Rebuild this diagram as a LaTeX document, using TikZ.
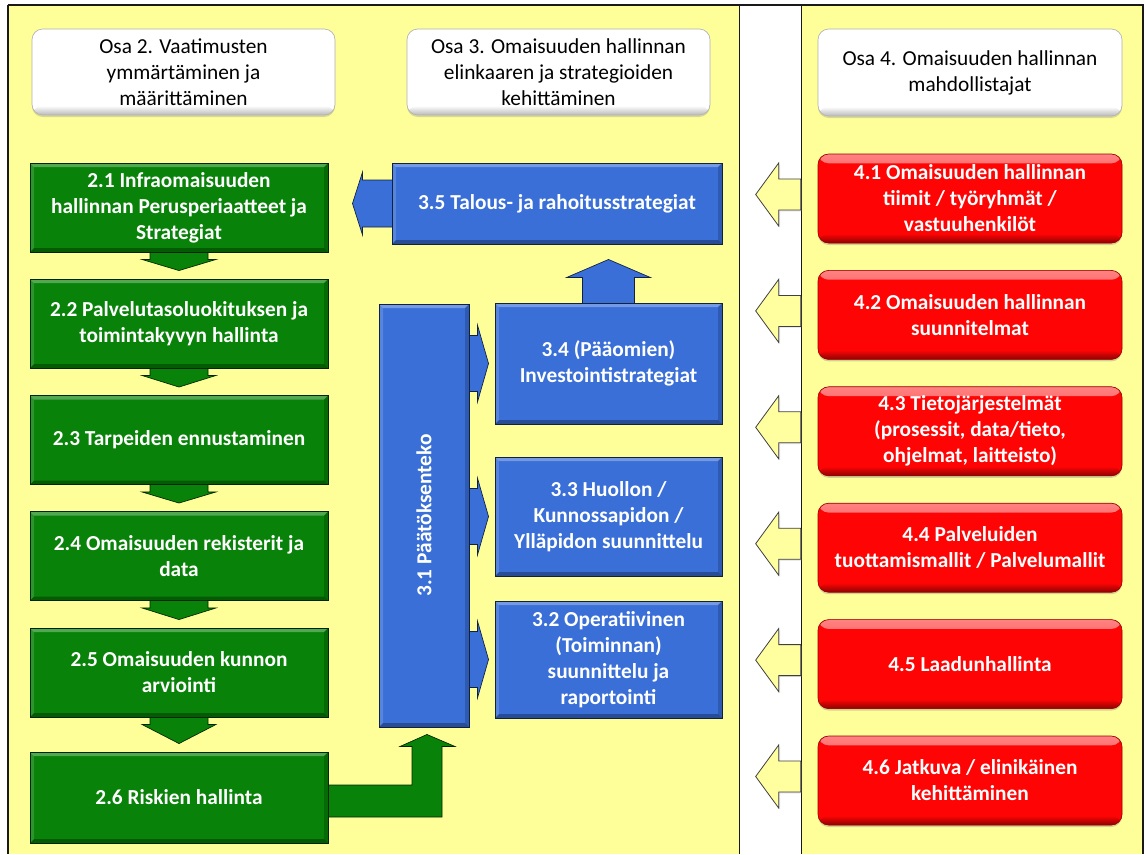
\documentclass[tikz,border=0pt]{standalone}
\usepackage{fontspec}
\setmainfont{Carlito}
\usetikzlibrary{calc,shadows}
\pgfdeclarelayer{back}
\pgfdeclarelayer{bg}
\pgfsetlayers{back,bg,main}

\definecolor{panelY}{RGB}{255,255,153}
\definecolor{boxG}{RGB}{8,130,8}
\definecolor{boxB}{RGB}{58,111,216}
\definecolor{boxR}{RGB}{255,4,4}
\definecolor{frameC}{RGB}{25,25,25}
\definecolor{arrowY}{RGB}{255,255,160}

% flat 3D bevel: light top/left edges, dark bottom/right edges
\newcommand\bevelpic{%
  \fill[white,opacity=.30] (path picture bounding box.north west) -- (path picture bounding box.north east)
    -- ([shift={(-3pt,-3pt)}]path picture bounding box.north east) -- ([shift={(3pt,-3pt)}]path picture bounding box.north west) -- cycle;
  \fill[white,opacity=.15] (path picture bounding box.north west) -- ([shift={(3pt,-3pt)}]path picture bounding box.north west)
    -- ([shift={(3pt,3pt)}]path picture bounding box.south west) -- (path picture bounding box.south west) -- cycle;
  \fill[black,opacity=.30] (path picture bounding box.south west) -- (path picture bounding box.south east)
    -- ([shift={(-3pt,3pt)}]path picture bounding box.south east) -- ([shift={(3pt,3pt)}]path picture bounding box.south west) -- cycle;
  \fill[black,opacity=.18] (path picture bounding box.north east) -- ([shift={(-3pt,-3pt)}]path picture bounding box.north east)
    -- ([shift={(-3pt,3pt)}]path picture bounding box.south east) -- (path picture bounding box.south east) -- cycle;}

% glossy rounded box: bright band on top, darker band at the bottom
\newcommand\glosspic[3]{%
  \shade[top color=#2, bottom color=#1] (path picture bounding box.north west) rectangle ([yshift=-7pt]path picture bounding box.north east);
  \shade[top color=#1, bottom color=#3] ([yshift=7pt]path picture bounding box.south west) rectangle (path picture bounding box.south east);}

\tikzset{
  boxtext/.style={align=center, text=white, inner sep=0pt, font=\bfseries\fontsize{16}{19.5}\selectfont},
  gbox/.style={boxtext, rectangle, fill=boxG, draw=boxG!30!black, line width=0.7pt,
    minimum width=223.5pt, minimum height=66.75pt, path picture={\bevelpic}},
  bbox/.style={boxtext, rectangle, fill=boxB, draw=boxB!30!black, line width=0.7pt,
    minimum width=170.25pt, path picture={\bevelpic}},
  rbox/.style={boxtext, rectangle, rounded corners=8pt, fill=boxR, draw=boxR!60!black, line width=0.5pt,
    minimum width=228pt, minimum height=66.75pt, path picture={\glosspic{boxR}{boxR!50!white}{boxR!55!black}},
    drop shadow={shadow xshift=0pt, shadow yshift=-1.5pt, opacity=.35}},
  hbox/.style={rectangle, rounded corners=8pt, fill=white, draw=gray!60, line width=0.5pt,
    minimum width=227.25pt, minimum height=64.5pt, align=center, inner sep=0pt,
    font=\fontsize{16}{19.5}\selectfont, path picture={\glosspic{white}{white}{gray!55}},
    drop shadow={shadow xshift=0pt, shadow yshift=-1.5pt, opacity=.30}},
  garrow/.style={fill=boxG, draw=boxG!30!black, line width=0.5pt, line join=miter},
  barrow/.style={fill=boxB, draw=boxB!30!black, line width=0.5pt, line join=miter},
  yarrow/.style={fill=arrowY, draw=black!75, line width=0.6pt, line join=miter,
    drop shadow={shadow xshift=1pt, shadow yshift=-1pt, opacity=.25}},
}

% green block arrow pointing down from one box to the next
\newcommand\gdown[2]{%
  \begin{pgfonlayer}{bg}
  \path[garrow] ($(#1.south)+(-29,-4)$) -- ($(#1.south)+(-29,7)$) -- ($(#1.south)+(-37,7)$)
    -- ($(#2.north)+(0,-8)$) -- ($(#1.south)+(37,7)$) -- ($(#1.south)+(29,7)$) -- ($(#1.south)+(29,-4)$) -- cycle;
  \end{pgfonlayer}}

% blue block arrow pointing right from the decision bar to a box
\newcommand\bright[2]{%
  \begin{pgfonlayer}{bg}
  \path[barrow] ($(#1.east |- #2.west)+(-4,-28)$) -- ($(#1.east |- #2.west)+(8,-28)$) -- ($(#1.east |- #2.west)+(8,-38.5)$)
    -- ($(#2.west)+(-6,0)$) -- ($(#1.east |- #2.west)+(8,38.5)$) -- ($(#1.east |- #2.west)+(8,28)$) -- ($(#1.east |- #2.west)+(-4,28)$) -- cycle;
  \end{pgfonlayer}}

% hollow yellow block arrow pointing left out of an enabler box
\newcommand\yleft[2]{%
  \coordinate (#2) at ($(#1.west)+(-62,-4)$);
  \begin{pgfonlayer}{bg}
  \path[yarrow] ($(#1.west)+(-17,-19.5)$) -- ($(#1.west)+(-39,-19.5)$) -- ($(#1.west)+(-39,-35.5)$)
    -- (#2) -- ($(#1.west)+(-39,27.5)$) -- ($(#1.west)+(-39,11.5)$) -- ($(#1.west)+(-17,11.5)$) -- cycle;
  \end{pgfonlayer}}

\begin{document}
\begin{tikzpicture}[x=0.75pt,y=-0.75pt]
\useasboundingbox (0,0) rectangle (1146,854);

% panels
\begin{pgfonlayer}{back}
  \fill[white] (0,0) rectangle (1146,854);
  \fill[panelY] (8,5) rectangle (739,854);
  \fill[panelY] (801,5) rectangle (1143,854);
  \draw[frameC, line width=0.8pt] (8,854) -- (8,5) (1143,5) -- (1143,854);
  \draw[frameC, line width=0.6pt] (739,5) -- (739,854) (801,5) -- (801,854);
  \draw[frameC, line width=1.4pt] (7.5,5) -- (1143.5,5);
\end{pgfonlayer}

% section headers
\node[hbox] (h2) at (183.5,72) {Osa 2. Vaatimusten\\ymmärtäminen ja\\määrittäminen};
\node[hbox] (h3) at (558.5,72) {Osa 3. Omaisuuden hallinnan\\elinkaaren ja strategioiden\\kehittäminen};
\node[hbox, minimum width=228pt, minimum height=65.25pt] (h4) at (970,72.5) {Osa 4. Omaisuuden hallinnan\\mahdollistajat};

% part 2: requirements
\node[gbox] (g1) at (179,207.5) {2.1 Infraomaisuuden\\hallinnan Perusperiaatteet ja\\Strategiat};
\node[gbox] (g2) at (179,323.5) {2.2 Palvelutasoluokituksen ja\\toimintakyvyn hallinta};
\node[gbox] (g3) at (179,440) {2.3 Tarpeiden ennustaminen};
\node[gbox] (g4) at (179,556) {2.4 Omaisuuden rekisterit ja\\data};
\node[gbox] (g5) at (179,672.5) {2.5 Omaisuuden kunnon\\arviointi};
\node[gbox, minimum height=68.25pt] (g6) at (179,797.5) {2.6 Riskien hallinta};

% part 3: life cycle and strategies
\node[bbox, minimum width=247.5pt, minimum height=60.75pt] (b35) at (557,203.5) {3.5 Talous- ja rahoitusstrategiat};
\node[bbox, minimum height=90.75pt] (b34) at (608.5,363.5) {3.4 (Pääomien)\\Investointistrategiat};
\node[bbox, minimum height=89.25pt] (b33) at (608.5,516.5) {3.3 Huollon /\\Kunnossapidon /\\Ylläpidon suunnittelu};
\node[bbox, minimum height=87.75pt] (b32) at (608.5,659.5) {3.2 Operatiivinen\\(Toiminnan)\\suunnittelu ja\\raportointi};
\node[bbox, minimum width=67.5pt, minimum height=317.25pt] (b31) at (424,515.5) {};
\node[boxtext, rotate=90] (b31t) at (b31.center) {3.1 Päätöksenteko};

% part 4: enablers
\node[rbox] (r1) at (970,198.5) {4.1 Omaisuuden hallinnan\\tiimit / työryhmät /\\vastuuhenkilöt};
\node[rbox] (r2) at (970,314.9) {4.2 Omaisuuden hallinnan\\suunnitelmat};
\node[rbox] (r3) at (970,431.3) {4.3 Tietojärjestelmät\\(prosessit, data/tieto,\\ohjelmat, laitteisto)};
\node[rbox] (r4) at (970,547.7) {4.4 Palveluiden\\tuottamismallit / Palvelumallit};
\node[rbox] (r5) at (970,664.1) {4.5 Laadunhallinta};
\node[rbox] (r6) at (970,780.5) {4.6 Jatkuva / elinikäinen\\kehittäminen};

% flow through part 2
\gdown{g1}{g2}
\gdown{g2}{g3}
\gdown{g3}{g4}
\gdown{g4}{g5}
\gdown{g5}{g6}

% risk management feeds decision making
\begin{pgfonlayer}{bg}
\path[garrow] ($(g6.east)+(-4,-12.5)$) -- ($(b31.south |- g6.east)+(-12,-12.5)$) -- ($(b31.south)+(-12,19)$)
  -- ($(b31.south)+(-24,19)$) -- ($(b31.south)+(3,7)$) -- ($(b31.south)+(31,19)$) -- ($(b31.south)+(18,19)$)
  -- ($(b31.south |- g6.east)+(18,19.5)$) -- ($(g6.east)+(-4,19.5)$) -- cycle;
\end{pgfonlayer}

% decision making drives the plans
\bright{b31}{b34}
\bright{b31}{b33}
\bright{b31}{b32}

% investment strategy up to financial strategy
\begin{pgfonlayer}{bg}
\path[barrow] ($(b34.north)+(-26,4)$) -- ($(b34.north)+(-26,-25)$) -- ($(b34.north)+(-42,-25)$)
  -- ($(b34.north |- b35.south)+(0,15)$) -- ($(b34.north)+(42,-25)$) -- ($(b34.north)+(26,-25)$) -- ($(b34.north)+(26,4)$) -- cycle;
% financial strategy back to the principles
\path[barrow] ($(b35.west)+(4,-23.5)$) -- ($(b35.west)+(-29,-23.5)$) -- ($(b35.west)+(-29,-31.5)$)
  -- ($(g1.east |- b35.west)+(24,0)$) -- ($(b35.west)+(-29,31.5)$) -- ($(b35.west)+(-29,23.5)$) -- ($(b35.west)+(4,23.5)$) -- cycle;
\end{pgfonlayer}

% enablers point into the framework
\yleft{r1}{y1}
\yleft{r2}{y2}
\yleft{r3}{y3}
\yleft{r4}{y4}
\yleft{r5}{y5}
\yleft{r6}{y6}
\end{tikzpicture}
\end{document}
